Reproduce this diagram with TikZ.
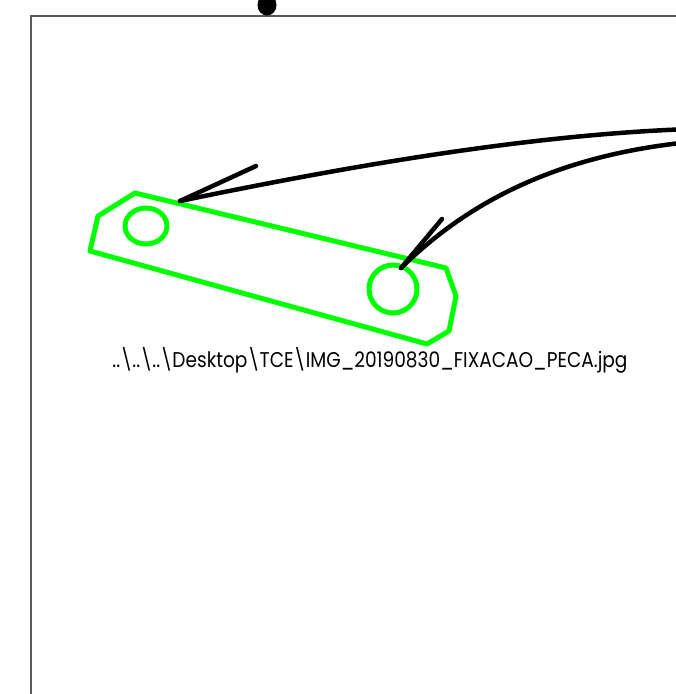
\documentclass[tikz,border=0pt]{standalone}
\usepackage{fontspec}
\newfontfamily\labelfont{Poppins}
\definecolor{pgreen}{RGB}{0,255,0}
\definecolor{framegray}{RGB}{90,90,90}
\begin{document}
\begin{tikzpicture}[x=1pt,y=-1pt,
  frameline/.style={draw=framegray,line width=1.2pt},
  greenline/.style={draw=pgreen,line width=5pt,line join=round},
  arrowline/.style={draw=black,line width=4.5pt,line cap=round}]
\useasboundingbox (0,0) rectangle (676,694);
\clip (0,0) rectangle (676,694);
\fill[white] (0,0) rectangle (676,694);
% frame
\draw[frameline] (31,700) -- (31,16) -- (690,16);
% dot
\fill[black] (267,5) ellipse [x radius=9.5, y radius=10.5];
% green piece
\draw[greenline] (135,193) -- (98,216) -- (90,251) -- (427,344) -- (449,331) -- (456,296) -- (446,268) -- cycle;
\draw[greenline] (146,226) ellipse [x radius=21, y radius=18];
\draw[greenline] (393,289) ellipse [x radius=24, y radius=24];
% arrows
\coordinate (s1) at (690,129);
\coordinate (t1) at (180,201);
\coordinate (b1) at (256,166);
\coordinate (s2) at (690,142);
\coordinate (t2) at (401,268);
\coordinate (b2) at (442,219);
\draw[arrowline] (s1) .. controls (520,135) and (330,170) .. (t1);
\draw[arrowline] (t1) -- (b1);
\draw[arrowline] (s2) .. controls (560,155) and (470,200) .. (t2);
\draw[arrowline] (t2) -- (b2);
% label
\node[inner sep=0pt] (lbl) at (370,360) {\scalebox{1}[1.15]{\resizebox{515pt}{!}{\labelfont ..\textbackslash..\textbackslash..\textbackslash Desktop\textbackslash TCE\textbackslash IMG\_20190830\_FIXACAO\_PECA.jpg}}};
\end{tikzpicture}
\end{document}
